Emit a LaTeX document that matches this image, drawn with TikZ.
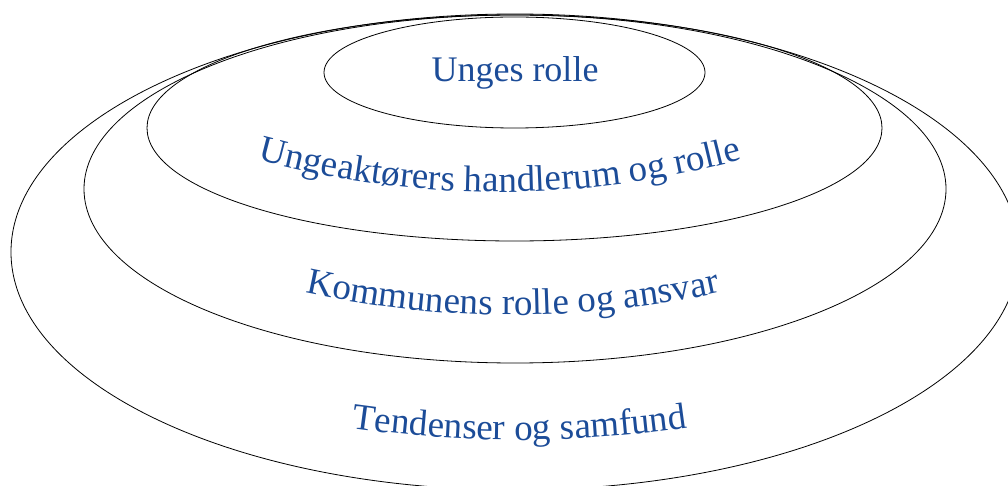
\documentclass[tikz,border=0pt]{standalone}
\usepackage{fontspec}
\setmainfont{Liberation Serif}
\usetikzlibrary{decorations.text}
\definecolor{ublue}{RGB}{28,76,152}
\newcommand\lblfont{\fontsize{36}{40}\selectfont\color{ublue}}
\newcommand\arcfont{\fontsize{37}{41}\selectfont\color{ublue}}
\begin{document}
\begin{tikzpicture}[x=1pt,y=1pt,
  ring/.style={draw=black, line width=0.8pt},
  lbl/.style={text=ublue, font=\lblfont, anchor=base, inner sep=0pt}]
\useasboundingbox (0,0) rectangle (1008,485);
\clip (0,0) rectangle (1008,485);
\draw[ring] (515,233) ellipse [x radius=504, y radius=238];
\draw[ring] (515,296) ellipse [x radius=431, y radius=174];
\draw[ring] (514.5,357) ellipse [x radius=367.5, y radius=113];
\draw[ring] (514.5,412.5) ellipse [x radius=190.5, y radius=55.5];
\node[lbl] (t1) at (515,403) {Unges rolle};
\coordinate (c2) at (500,1209);
\coordinate (c3) at (512.5,1136);
\coordinate (c4) at (519.5,1227);
\path[decorate, decoration={text along path, text={|\arcfont|Ungeaktørers handlerum og rolle}, text align=center}]
  (c2) ++(250:916) arc[start angle=250, end angle=290, radius=916];
\path[decorate, decoration={text along path, text={|\arcfont|Kommunens rolle og ansvar}, text align=center}]
  (c3) ++(250:966) arc[start angle=250, end angle=290, radius=966];
\path[decorate, decoration={text along path, text={|\arcfont|Tendenser og samfund}, text align=center}]
  (c4) ++(255:1182) arc[start angle=255, end angle=285, radius=1182];
\end{tikzpicture}
\end{document}
